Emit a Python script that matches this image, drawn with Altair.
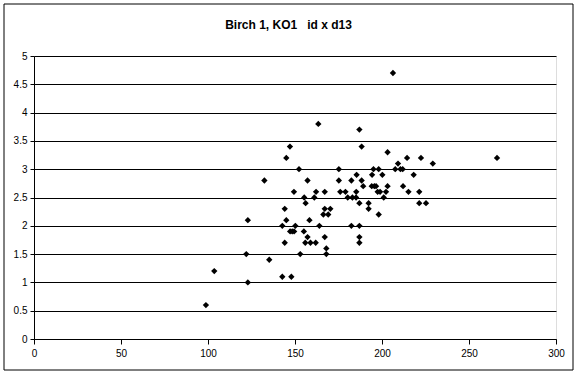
import altair as alt
import pandas as pd

x_vals = [147.1, 145.0, 152.3, 132.4, 157.2, 149.4, 162.1, 167.1, 155.3, 161.1,
          156.1, 144.1, 167.1, 166.3, 122.9, 145.0, 158.3, 142.7, 150.2, 164.0,
          147.2, 148.4, 149.5, 155.1, 157.2, 167.1, 144.1, 155.9, 158.9, 161.9,
          122.0, 153.0, 135.2, 103.6, 142.7, 147.9, 122.9, 98.8,
          187.0, 188.3, 203.2, 209.2, 214.4, 222.4, 229.2, 175.2, 195.1, 198.1,
          207.6, 210.6, 211.9, 194.3, 200.2, 218.2, 185.4, 175.2, 182.4, 188.3,
          189.2, 194.1, 195.6, 196.6, 212.1, 203.2, 176.0, 179.0, 185.2, 197.5,
          198.9, 202.3, 215.2, 221.4, 180.3, 183.0, 185.1, 201.0, 187.0, 192.3,
          221.4, 225.3, 192.3, 170.3, 169.1, 198.1, 182.4, 187.0, 187.0, 187.0,
          168.0, 168.0, 163.4, 266.1, 206.3]
y_vals = [3.4, 3.2, 3.0, 2.8, 2.8, 2.6, 2.6, 2.6, 2.5, 2.5,
          2.4, 2.3, 2.3, 2.2, 2.1, 2.1, 2.1, 2.0, 2.0, 2.0,
          1.9, 1.9, 1.9, 1.9, 1.8, 1.8, 1.7, 1.7, 1.7, 1.7,
          1.5, 1.5, 1.4, 1.2, 1.1, 1.1, 1.0, 0.6,
          3.7, 3.4, 3.3, 3.1, 3.2, 3.2, 3.1, 3.0, 3.0, 3.0,
          3.0, 3.0, 3.0, 2.9, 2.9, 2.9, 2.9, 2.8, 2.8, 2.8,
          2.7, 2.7, 2.7, 2.7, 2.7, 2.7, 2.6, 2.6, 2.6, 2.6,
          2.6, 2.6, 2.6, 2.6, 2.5, 2.5, 2.5, 2.5, 2.4, 2.4,
          2.4, 2.4, 2.3, 2.3, 2.2, 2.2, 2.0, 2.0, 1.8, 1.7,
          1.6, 1.5, 3.8, 3.2, 4.7]

x_ticks = [0, 50, 100, 150, 200, 250, 300]
y_ticks = [0, 0.5, 1, 1.5, 2, 2.5, 3, 3.5, 4, 4.5, 5]
title_text = ["Birch 1, KO1\u00a0\u00a0\u00a0id x d13"]

df = pd.DataFrame({"x": x_vals, "y": y_vals})

FONT = "Liberation Sans"

points = alt.Chart(df).mark_point(
    shape="diamond", filled=True, color="black", size=40, opacity=1
).encode(
    x=alt.X("x:Q", scale=alt.Scale(domain=[0, 300], nice=False),
            axis=alt.Axis(values=x_ticks, title=None, grid=False, tickSize=5,
                          labelPadding=4, domainColor="black", tickColor="black",
                          labelColor="black", labelFont=FONT, labelFontSize=10,
                          labelFlush=False)),
    y=alt.Y("y:Q", scale=alt.Scale(domain=[0, 5], nice=False),
            axis=alt.Axis(values=y_ticks, title=None, grid=True, gridColor="black",
                          gridOpacity=1, gridWidth=1, tickSize=4, labelPadding=3,
                          domainColor="black", tickColor="black", labelColor="black",
                          labelFont=FONT, labelFontSize=10, format="~g"))
)

border = alt.Chart(pd.DataFrame({"a": [0]})).mark_rect(
    fill=None, stroke="black", strokeWidth=1
).encode(
    x=alt.value(-30), x2=alt.value(539), y=alt.value(-52), y2=alt.value(314)
)

title = alt.Chart(pd.DataFrame({"t": title_text})).mark_text(
    font=FONT, fontSize=12, fontWeight="bold", color="black",
    align="center", baseline="middle"
).encode(
    text="t:N", x=alt.value(254.5), y=alt.value(-31)
)

chart = alt.layer(border, points, title).properties(
    width=522, height=283,
    autosize=alt.AutoSizeParams(type="none"),
    padding={"left": 34, "top": 56, "right": 21, "bottom": 35},
).configure_view(stroke="black", strokeWidth=1).configure(background="white")

chart.save("out.html", embed_options={"renderer": "svg", "actions": False})
